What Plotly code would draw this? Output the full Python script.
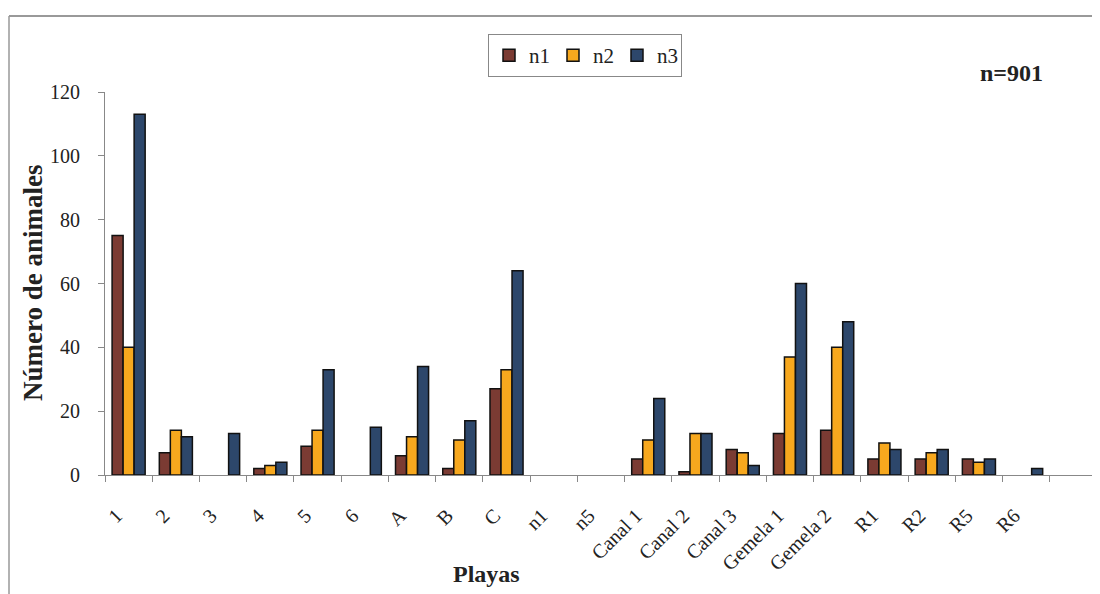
import plotly.graph_objects as go

playas = ["1", "2", "3", "4", "5", "6", "A", "B", "C", "n1", "n5",
          "Canal 1", "Canal 2", "Canal 3", "Gemela 1", "Gemela 2",
          "R1", "R2", "R5", "R6", " "]
n1 = [75, 7, None, 2, 9, None, 6, 2, 27, None, None, 5, 1, 8, 13, 14, 5, 5, 5, None, None]
n2 = [40, 14, None, 3, 14, None, 12, 11, 33, None, None, 11, 13, 7, 37, 40, 10, 7, 4, None, None]
n3 = [113, 12, 13, 4, 33, 15, 34, 17, 64, None, None, 24, 13, 3, 60, 48, 8, 8, 5, 2, None]

series = [("n1", n1, "#7B3B33"), ("n2", n2, "#F7A81E"), ("n3", n3, "#2D476B")]
yticks = [0, 20, 40, 60, 80, 100, 120]

SERIF = "Liberation Serif, Times New Roman, serif"

fig = go.Figure()
for name, vals, col in series:
    fig.add_trace(go.Bar(
        x=playas, y=vals, name=name,
        marker=dict(color=col, line=dict(color="#111111", width=1.5)),
    ))

# target plot area in screen pixels; page body adds an 8px offset
OFF = 8
L, R, T, B = 105, 1097, 92, 475
W, H = 1100, 594

def px(x):
    return (x - L) / (R - L)

def py(y):
    return (B - y) / (B - T)

fig.update_layout(
    width=W, height=H,
    margin=dict(l=L - OFF, r=W - R + OFF, t=T - OFF, b=H - B + OFF, autoexpand=False),
    paper_bgcolor="white", plot_bgcolor="white",
    barmode="group", bargap=0.3, bargroupgap=0,
    font=dict(family=SERIF, size=20, color="#222222"),
    showlegend=True,
    legend=dict(
        orientation="h", x=px(488), y=py(34), xanchor="left", yanchor="top",
        bordercolor="#888888", borderwidth=1, bgcolor="white",
        font=dict(family=SERIF, size=21, color="#222222"),
        itemwidth=30, entrywidth=19, tracegroupgap=0,
    ),
    xaxis=dict(
        type="category", tickangle=-45, tickson="boundaries",
        ticks="outside", ticklen=6, tickcolor="#888888",
        showline=True, linecolor="#888888", linewidth=1,
        showgrid=False, zeroline=False, automargin=False,
        tickfont=dict(family=SERIF, size=20, color="#222222"),
        ticklabelstandoff=20, ticklabelshift=-12,
    ),
    yaxis=dict(
        range=[0, 120], tickvals=yticks,
        ticks="outside", ticklen=6, tickcolor="#888888",
        showline=True, linecolor="#888888", linewidth=1,
        showgrid=False, zeroline=False, automargin=False,
        tickfont=dict(family=SERIF, size=20, color="#222222"),
        ticklabelstandoff=14,
    ),
    annotations=[
        dict(text="<b>Número de animales</b>", x=px(33), y=py(283),
             xref="paper", yref="paper", textangle=-90, showarrow=False,
             xanchor="center", yanchor="middle",
             font=dict(family=SERIF, size=27, color="#222222")),
        dict(text="<b>Playas</b>", x=px(486), y=py(574),
             xref="paper", yref="paper", showarrow=False,
             xanchor="center", yanchor="middle",
             font=dict(family=SERIF, size=24, color="#222222")),
        dict(text="<b>n=901</b>", x=px(1011), y=py(73),
             xref="paper", yref="paper", showarrow=False,
             xanchor="center", yanchor="middle",
             font=dict(family=SERIF, size=24, color="#222222")),
    ],
    shapes=[
        dict(type="line", xref="paper", yref="paper",
             x0=px(9), x1=px(1108), y0=py(16), y1=py(16),
             line=dict(color="#777777", width=1.5)),
        dict(type="line", xref="paper", yref="paper",
             x0=px(9), x1=px(9), y0=py(16), y1=py(600),
             line=dict(color="#999999", width=1.5)),
    ],
)

fig.write_html("out.html")
